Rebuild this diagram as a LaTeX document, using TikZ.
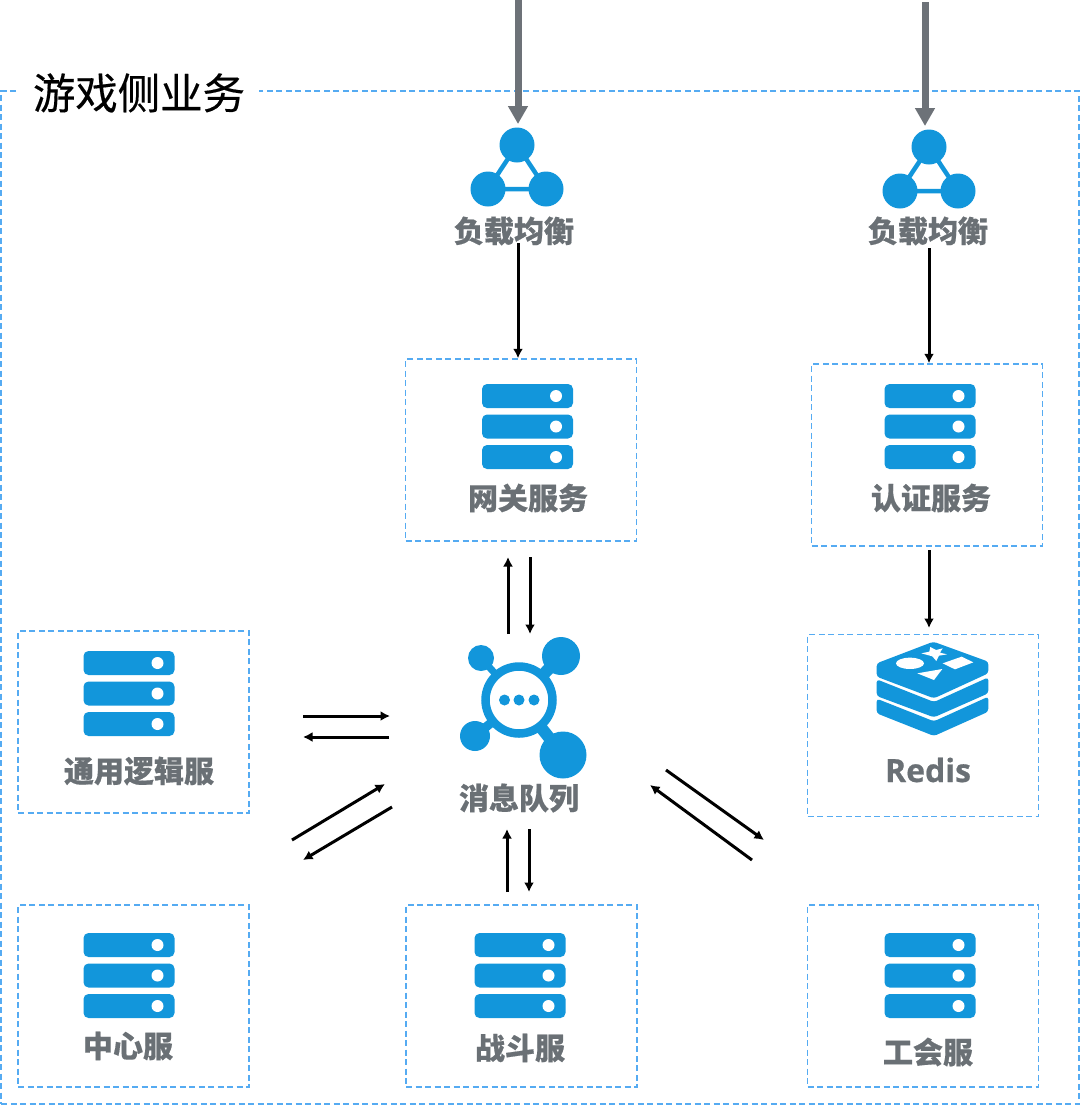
\documentclass[tikz,border=0pt]{standalone}
\usepackage{fontspec}
\setmainfont{Open Sans}[BoldFeatures={FakeBold=0.6}]
\newfontfamily\cjk{Noto Sans CJK SC}[BoldFeatures={FakeBold=0.5}]
\newfontfamily\cjktitle{Noto Sans CJK SC}[FakeBold=0.35]
\usetikzlibrary{arrows.meta}
\definecolor{iconblue}{HTML}{1296DB}
\definecolor{labelgrey}{HTML}{6A7075}
\definecolor{dashblue}{HTML}{55ABF2}
\definecolor{feedgrey}{HTML}{6D7278}
\tikzset{
  panel/.style={draw=dashblue,line width=1.5pt,dash pattern=on 6pt off 3.5pt,minimum width=231pt,minimum height=182pt,inner sep=0pt},
  caption/.style={font=\cjk\bfseries\fontsize{30}{30}\selectfont,text=labelgrey,inner sep=0pt},
  flow/.style={draw=black,line width=3pt,-{Latex[length=9.5pt,width=10pt]}},
  feed/.style={draw=feedgrey,line width=7pt,-{Triangle[length=18pt,width=19pt]}},
  server/.pic={
    \foreach \top in {0,30.5,61}{
      \fill[iconblue,rounded corners=5pt] (-45.5,\top) rectangle (45.5,\top+24);
      \fill[white] (28.5,\top+12) circle[radius=6pt];
    }
  },
  balancer/.pic={
    \draw[iconblue,line width=4.5pt] (0,0) -- (-29,44) -- (29,44) -- cycle;
    \fill[iconblue] (0,0) circle[radius=17.5pt] (-29,44) circle[radius=17.5pt] (29,44) circle[radius=17.5pt];
  }
}
\begin{document}
\begin{tikzpicture}[x=1pt,y=-1pt]
\useasboundingbox (0,0) rectangle (1080,1106);

% outer frame and its title
\node[draw=dashblue,line width=1.5pt,dash pattern=on 6pt off 3.5pt,minimum width=1078pt,minimum height=1013pt,inner sep=0pt] (frame) at (540,597.5) {};
\node[fill=white,font=\cjktitle\fontsize{42.4}{42.4}\selectfont,inner sep=0pt,minimum width=240pt,minimum height=40pt] (title) at (139,93) {游戏侧业务};

% dashed service panels
\node[panel] (gw) at (521,450) {};
\node[panel] (auth) at (927,455) {};
\node[panel] (redis) at (923,725.5) {};
\node[panel] (common) at (133.5,722) {};
\node[panel] (centre) at (133.5,996) {};
\node[panel] (battle) at (521.5,996) {};
\node[panel] (guild) at (923,996) {};

% load balancers
\pic at (517,145) {balancer};
\pic at (929,147) {balancer};
\node[caption] (lbA) at (514,231) {负载均衡};
\node[caption] (lbB) at (928,231) {负载均衡};

% server stacks
\pic at (527.5,384) {server};
\pic at (930,384) {server};
\pic at (129,651) {server};
\pic at (129,933) {server};
\pic at (520,933) {server};
\pic at (930,933) {server};

% message queue icon
\begin{scope}[shift={(519,700)}]
  \draw[iconblue,line width=7pt] (-38,-42) -- (0,0);
  \draw[iconblue,line width=12pt] (42,-44) -- (0,0);
  \draw[iconblue,line width=9pt] (-44,36) -- (0,0);
  \draw[iconblue,line width=12pt] (44,55) -- (0,0);
  \fill[white] (0,0) circle[radius=33pt];
  \fill[iconblue] (-38,-42) circle[radius=13pt] (42,-44) circle[radius=19pt]
                  (-44,36) circle[radius=15pt] (44,55) circle[radius=23.5pt];
  \draw[iconblue,line width=8.5pt] (0,0) circle[radius=33.5pt];
  \fill[iconblue] (-14.5,0) circle[radius=5.5pt] (0,0) circle[radius=5.5pt] (15,0) circle[radius=5.5pt];
\end{scope}
\node[caption] (mqtext) at (519,798) {消息队列};

% redis icon, three stacked layers with the shapes on top
\begin{scope}[shift={(860,630)},x=0.3333pt,y=-0.3333pt]
  \fill[iconblue,rounded corners=3pt] (50,100) -- (220,35) -- (385,95) -- (385,130) -- (222,205) -- (50,140) -- cycle;
  \fill[iconblue,rounded corners=3pt] (50,148) -- (222,216) -- (385,142) -- (385,190) -- (222,262) -- (50,198) -- cycle;
  \fill[iconblue,rounded corners=3pt] (50,206) -- (222,274) -- (385,200) -- (385,245) -- (222,318) -- (50,250) -- cycle;
  \fill[white] (150,100) ellipse[x radius=42,y radius=17];
  \fill[white] (211,51) -- (228,60) -- (248,55) -- (240,68) -- (261,73) -- (237,77) -- (229,93) -- (217,79) -- (184,70) -- (208,65) -- cycle;
  \fill[white] (248,100) -- (305,80) -- (340,97) -- (285,118) -- cycle;
  \fill[white] (172,130) -- (247,117) -- (222,150) -- cycle;
\end{scope}

% panel captions
\node[caption] (gwtext) at (528,498) {网关服务};
\node[caption] (authtext) at (931,498) {认证服务};
\node[caption] (commontext) at (139,771) {通用逻辑服};
\node[caption] (centretext) at (128,1046) {中心服};
\node[caption] (battletext) at (520,1048) {战斗服};
\node[caption] (guildtext) at (928,1052) {工会服};
\node[caption,font=\bfseries\fontsize{32}{32}\selectfont] (redistext) at (928,770) {Redis};

% incoming traffic
\coordinate (inA) at (518,0);
\coordinate (inB) at (925,2);
\coordinate (inAend) at (518,124);
\coordinate (inBend) at (925,126);
\draw[feed] (inA) -- (inAend);
\draw[feed] (inB) -- (inBend);

% balancers to services
\coordinate (lbAout) at (518,243);
\coordinate (lbBout) at (929,248);
\draw[flow] (lbAout) -- (lbAout |- gw.north);
\draw[flow] (lbBout) -- (lbBout |- auth.north);

% authentication to redis
\coordinate (authout) at (929,550);
\coordinate (redisin) at (929,628);
\draw[flow] (authout) -- (redisin);

% gateway and queue
\coordinate (gwU1) at (508,634);
\coordinate (gwU2) at (508,557);
\coordinate (gwD1) at (530,557);
\coordinate (gwD2) at (530,634);
\draw[flow] (gwU1) -- (gwU2);
\draw[flow] (gwD1) -- (gwD2);

% common logic and queue
\coordinate (cmA1) at (303,716);
\coordinate (cmA2) at (390,716);
\coordinate (cmB1) at (389,737);
\coordinate (cmB2) at (303,737);
\draw[flow] (cmA1) -- (cmA2);
\draw[flow] (cmB1) -- (cmB2);

% centre and queue
\coordinate (ctA1) at (292,840);
\coordinate (ctA2) at (385,784);
\coordinate (ctB1) at (392,807);
\coordinate (ctB2) at (303,860);
\draw[flow] (ctA1) -- (ctA2);
\draw[flow] (ctB1) -- (ctB2);

% battle and queue
\coordinate (btU1) at (507,892);
\coordinate (btU2) at (507,829);
\coordinate (btD1) at (529,829);
\coordinate (btD2) at (529,892);
\draw[flow] (btU1) -- (btU2);
\draw[flow] (btD1) -- (btD2);

% guild and queue
\coordinate (gdA1) at (666,770);
\coordinate (gdA2) at (764,840);
\coordinate (gdB1) at (752,860);
\coordinate (gdB2) at (650,785);
\draw[flow] (gdA1) -- (gdA2);
\draw[flow] (gdB1) -- (gdB2);
\end{tikzpicture}
\end{document}
